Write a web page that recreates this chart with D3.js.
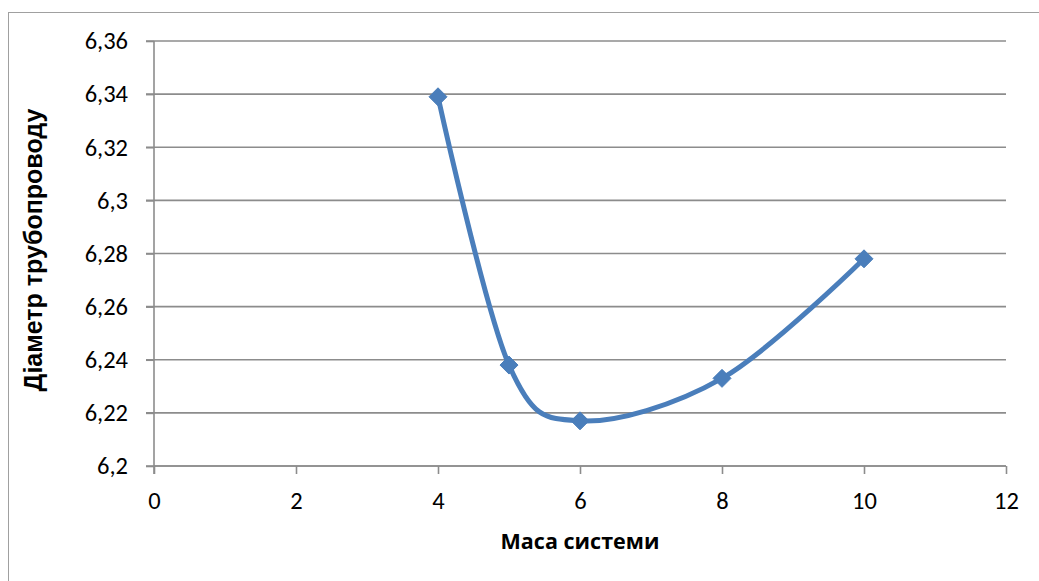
<!DOCTYPE html>
<html><head><meta charset="utf-8">
<script src="https://cdn.jsdelivr.net/npm/d3@7"></script>
<style>body{margin:0;background:#fff}svg{display:block}</style>
</head><body>
<script>
const xValues = [4, 5, 6, 8, 10];
const yValues = [6.339, 6.238, 6.217, 6.233, 6.278];
const xTicks = [0, 2, 4, 6, 8, 10, 12];
const yTicks = [6.2, 6.22, 6.24, 6.26, 6.28, 6.3, 6.32, 6.34, 6.36];
const xTitle = "Маса системи";
const yTitle = "Діаметр трубопроводу";

const W = 1039, H = 581;
const svg = d3.select("body").append("svg").attr("width", W).attr("height", H);

// chart border
svg.append("rect").attr("x", 8.5).attr("y", 12.5).attr("width", W + 10).attr("height", H + 10)
  .attr("fill", "none").attr("stroke", "#a0a0a0").attr("stroke-width", 1);

const x = d3.scaleLinear().domain([0, 12]).range([154, 1006]);
const y = d3.scaleLinear().domain([6.2, 6.36]).range([466, 41]);
const fmt = d => String(+d.toFixed(2)).replace(".", ",");
const tickFont = "Carlito, Lato, 'Open Sans', sans-serif";

// gridlines
svg.append("g").selectAll("line").data(yTicks).join("line")
  .attr("x1", 146).attr("x2", 1006)
  .attr("y1", d => y(d)).attr("y2", d => y(d))
  .attr("stroke", "#8c8c8c").attr("stroke-width", 1.6);

// y axis
const ya = svg.append("g").attr("transform", "translate(154,0)")
  .call(d3.axisLeft(y).tickValues(yTicks).tickFormat(fmt).tickSize(8).tickPadding(18));
ya.select(".domain").attr("stroke", "#8c8c8c").attr("stroke-width", 1.6).attr("d", `M0,${y(6.36)}V${y(6.2)+8}`);
ya.selectAll(".tick line").attr("stroke", "#8c8c8c").attr("stroke-width", 1.6);
ya.selectAll("text").attr("font-family", tickFont).attr("font-size", 24.5).attr("fill", "#000");

// x axis
const xa = svg.append("g").attr("transform", `translate(0,${y(6.2)})`)
  .call(d3.axisBottom(x).tickValues(xTicks).tickFormat(d3.format("d")).tickSize(8));
xa.select(".domain").attr("stroke", "#8c8c8c").attr("stroke-width", 1.6).attr("d", `M154,0H1006`);
xa.selectAll(".tick line").attr("stroke", "#8c8c8c").attr("stroke-width", 1.6);
xa.selectAll("text").attr("y", 43).attr("dy", 0)
  .attr("font-family", tickFont).attr("font-size", 24.5).attr("fill", "#000");

// line
const pts = xValues.map((v, i) => [v, yValues[i]]);
const line = d3.line().x(d => x(d[0])).y(d => y(d[1])).curve(d3.curveCardinal.tension(0));
svg.append("path").datum(pts).attr("d", line)
  .attr("fill", "none").attr("stroke", "#4a7ebb").attr("stroke-width", 5)
  .attr("stroke-linejoin", "round").attr("stroke-linecap", "round");

// markers
svg.append("g").selectAll("path").data(pts).join("path")
  .attr("transform", d => `translate(${x(d[0])},${y(d[1])})`)
  .attr("d", "M0,-9L9,0L0,9L-9,0Z")
  .attr("fill", "#4a7ebb").attr("stroke", "#4a7ebb").attr("stroke-width", 1);

// titles, sized to fit the reference extents
function fit(sel, target) {
  const base = 20;
  sel.attr("font-size", base);
  const w = sel.node().getComputedTextLength();
  sel.attr("font-size", base * target / w);
}
const xt = svg.append("text").attr("x", 580).attr("y", 549).attr("text-anchor", "middle")
  .attr("font-family", "'Open Sans', 'Noto Sans', sans-serif").attr("font-weight", "bold").text(xTitle);
fit(xt, 159);
const yt = svg.append("text").attr("transform", "translate(42,250) rotate(-90)").attr("text-anchor", "middle")
  .attr("font-family", "'Liberation Sans', Arial, sans-serif").attr("font-weight", "bold").text(yTitle);
fit(yt, 283);
</script>
</body></html>
